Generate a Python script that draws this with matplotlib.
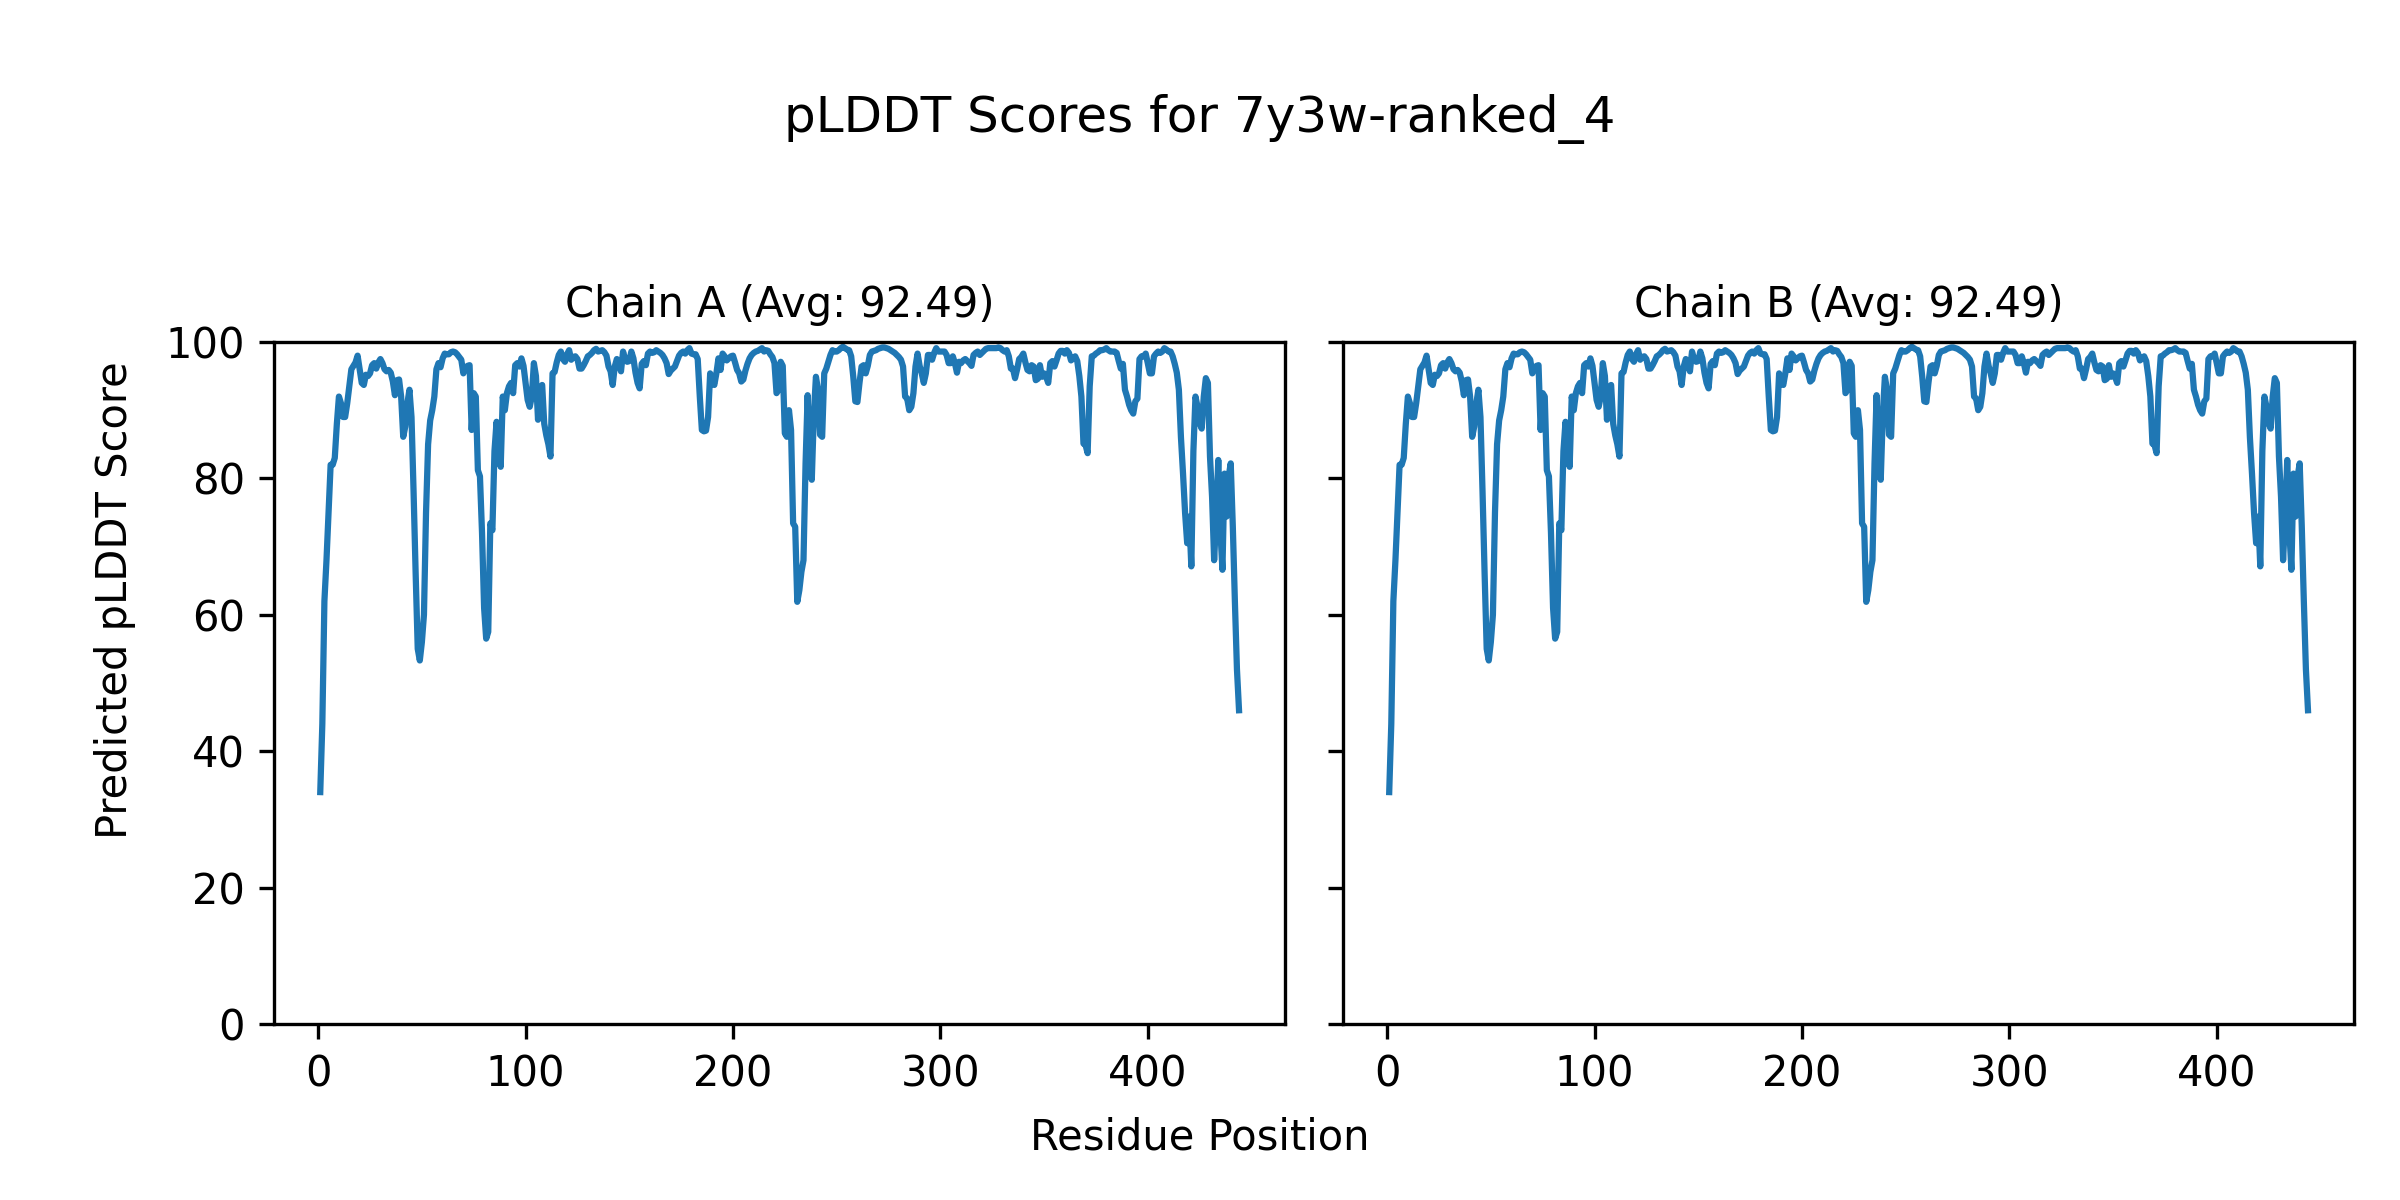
import numpy as np
import matplotlib
matplotlib.use("Agg")
import matplotlib.pyplot as plt

model_name = "7y3w-ranked_4"
chains = ["A", "B"]
chain_avgs = [92.49, 92.49]

plddt = [
    34.0, 44.0, 62.0, 68.0, 75.0, 82.0, 82.0, 83.0, 88.0, 92.0,
    91.0, 89.0, 89.0, 91.0, 93.5, 96.0, 96.5, 97.0, 98.0, 96.0,
    94.0, 93.7, 95.2, 95.0, 95.4, 96.6, 96.9, 96.1, 97.0, 97.5,
    96.9, 96.0, 95.7, 95.9, 95.5, 94.2, 92.2, 94.4, 94.5, 92.0,
    86.1, 87.6, 91.0, 93.0, 89.0, 78.0, 66.0, 55.0, 53.3, 56.0,
    60.0, 75.0, 85.0, 88.5, 90.0, 92.0, 96.0, 96.9, 96.3, 97.6,
    98.3, 98.2, 98.2, 98.5, 98.6, 98.5, 98.2, 97.8, 97.4, 95.4,
    96.2, 96.5, 96.6, 87.1, 92.5, 92.0, 81.2, 80.3, 72.0, 61.0,
    56.5, 57.5, 73.4, 72.4, 84.0, 88.3, 85.0, 81.7, 92.0, 90.0,
    92.5, 93.5, 94.0, 92.5, 96.6, 96.9, 96.4, 97.6, 96.5, 94.0,
    91.5, 90.5, 92.0, 96.9, 95.0, 88.6, 93.0, 93.7, 88.0, 86.3,
    85.0, 83.2, 95.4, 95.6, 97.0, 98.1, 98.6, 97.5, 97.1, 98.2,
    98.8, 97.4, 97.8, 97.9, 97.5, 96.1, 96.1, 96.6, 97.2, 97.9,
    98.1, 98.4, 98.8, 99.0, 98.6, 98.7, 98.8, 98.5, 98.0, 96.4,
    95.7, 93.7, 96.4, 97.5, 97.0, 95.7, 98.6, 97.5, 97.1, 97.2,
    98.6, 97.6, 95.5, 94.0, 93.2, 96.8, 97.2, 96.6, 98.3, 98.6,
    98.4, 98.5, 98.8, 98.6, 98.4, 98.1, 97.6, 96.9, 95.3, 95.8,
    96.1, 96.4, 97.2, 98.0, 98.4, 98.6, 98.3, 98.8, 99.1, 98.3,
    98.2, 98.2, 97.5, 92.0, 87.1, 86.9, 87.0, 89.0, 95.4, 94.5,
    93.7, 95.4, 97.6, 95.9, 98.3, 97.9, 97.3, 97.6, 97.9, 98.0,
    97.0, 95.9, 95.4, 94.2, 94.5, 95.8, 96.8, 97.6, 98.1, 98.4,
    98.6, 98.7, 98.9, 99.1, 98.6, 98.8, 98.7, 98.2, 97.8, 96.9,
    92.5, 93.0, 97.1, 96.5, 86.6, 86.1, 90.0, 87.1, 73.4, 72.9,
    61.9, 63.6, 66.3, 68.0, 82.2, 92.2, 82.2, 79.8, 89.5, 94.9,
    93.0, 86.4, 86.1, 95.4, 96.1, 97.1, 98.1, 98.8, 98.6, 98.6,
    98.8, 99.1, 99.3, 99.1, 98.9, 98.8, 97.9, 94.9, 91.3, 91.2,
    94.0, 96.4, 96.6, 95.4, 96.5, 98.1, 98.6, 98.7, 98.8, 99.0,
    99.1, 99.2, 99.2, 99.1, 99.0, 98.8, 98.6, 98.4, 98.1, 97.8,
    97.4, 96.4, 92.0, 91.7, 90.0, 90.5, 92.5, 96.4, 98.3, 96.5,
    95.4, 94.0, 95.4, 98.1, 98.1, 97.4, 98.4, 99.1, 98.6, 98.6,
    98.6, 98.6, 98.1, 96.9, 96.9, 97.9, 96.9, 95.5, 97.1, 96.9,
    97.3, 97.5, 97.2, 96.9, 96.5, 98.1, 98.4, 98.6, 98.1, 98.4,
    98.7, 99.0, 99.1, 99.1, 99.1, 99.1, 99.1, 99.2, 99.1, 98.8,
    98.6, 98.8, 97.9, 96.1, 96.1, 94.7, 96.0, 97.5, 97.8, 98.3,
    97.0, 95.9, 95.7, 96.6, 96.4, 94.4, 94.6, 96.6, 94.9, 95.4,
    94.9, 94.0, 96.9, 97.2, 96.4, 97.3, 98.3, 98.7, 98.7, 98.3,
    98.8, 98.4, 97.3, 97.6, 97.9, 97.2, 95.0, 92.0, 85.1, 84.9,
    83.7, 93.5, 97.9, 98.0, 98.3, 98.5, 98.8, 98.8, 98.9, 99.1,
    98.8, 98.6, 98.6, 98.6, 98.4, 97.2, 96.1, 96.8, 93.0, 92.0,
    90.8, 90.0, 89.5, 91.3, 91.7, 97.5, 97.9, 97.9, 98.3, 96.9,
    95.4, 95.4, 97.9, 98.3, 98.6, 98.4, 98.6, 99.1, 98.9, 98.6,
    98.6, 97.9, 96.8, 95.5, 93.0, 86.0, 80.7, 74.9, 70.5, 74.4,
    67.1, 84.0, 92.0, 90.5, 88.1, 87.3, 92.0, 94.7, 94.0, 83.2,
    77.3, 68.0, 74.4, 82.7, 72.4, 66.6, 80.7, 74.4, 80.3, 82.2,
    73.0, 62.0, 52.0, 46.0,
]
residues = list(range(1, len(plddt) + 1))
chain_scores = {"A": plddt, "B": plddt}

fig = plt.figure(figsize=(8, 4), dpi=300)
axes = fig.subplots(1, 2, sharey=True)
fig.subplots_adjust(left=0.1143, right=0.9808, bottom=0.1467, top=0.715, wspace=0.0577)

for ax, ch, avg in zip(axes, chains, chain_avgs):
    scores = chain_scores[ch]
    ax.plot(residues, scores, color="#1f77b4", linewidth=1.5)
    ax.set_title(f"Chain {ch} (Avg: {avg:.2f})", fontsize=10)
    ax.set_ylim(0, 100)

fig.suptitle(f"pLDDT Scores for {model_name}", fontsize=12, y=0.901, va="center")
fig.text(0.5, 1 - 1137 / 1200, "Residue Position", ha="center", va="center", fontsize=10)
fig.text(0.048, 0.5, "Predicted pLDDT Score", ha="center", va="center", rotation=90, fontsize=10)

fig.savefig("out.png", dpi=300)
